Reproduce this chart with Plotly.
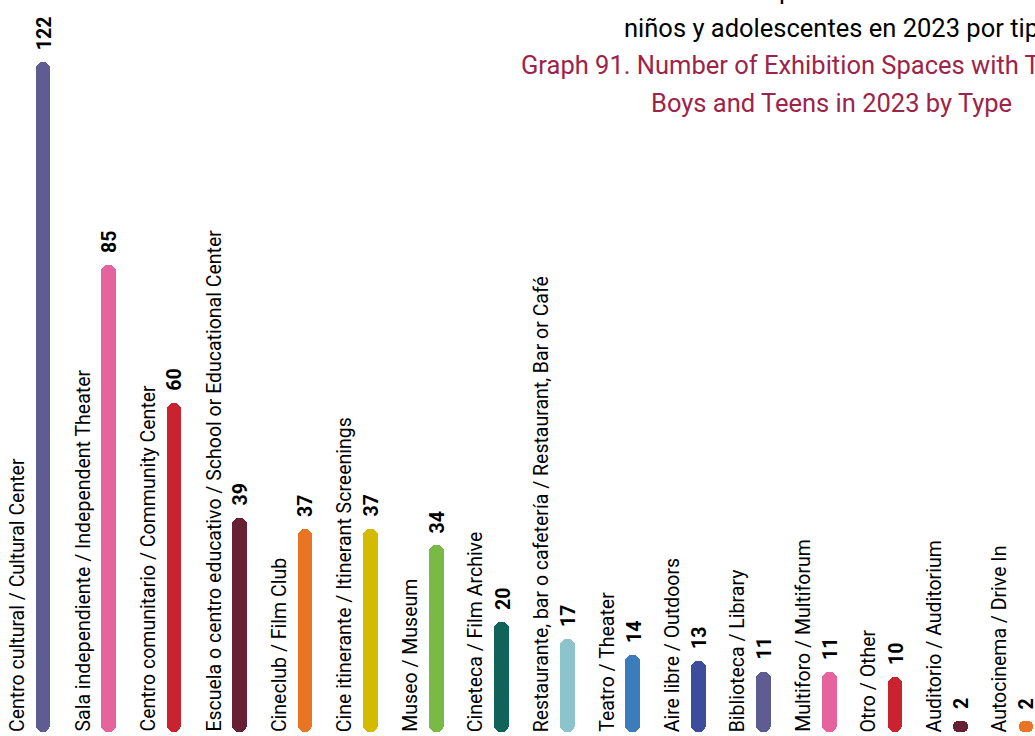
import plotly.graph_objects as go

# Data
categories = [
    'Centro cultural / Cultural Center',
    'Sala independiente / Independent Theater',
    'Centro comunitario / Community Center',
    'Escuela o centro educativo / School or Educational Center',
    'Cineclub / Film Club',
    'Cine itinerante / Itinerant Screenings',
    'Museo / Museum',
    'Cineteca / Film Archive',
    'Restaurante, bar o cafetería / Restaurant, Bar or Café',
    'Teatro / Theater',
    'Aire libre / Outdoors',
    'Biblioteca / Library',
    'Multiforo / Multiforum',
    'Otro / Other',
    'Auditorio / Auditorium',
    'Autocinema / Drive In',
]
values = [122, 85, 60, 39, 37, 37, 34, 20, 17, 14, 13, 11, 11, 10, 2, 2]
colors = [
    '#5e5c90', '#e5649e', '#c8232f', '#661f33', '#e97424', '#d4bb00',
    '#7bb946', '#106358', '#8cc3cd', '#3b7cbd', '#3c4e9b', '#5e5c90',
    '#e5649e', '#c8232f', '#661f33', '#e97424',
]

title_lines = [
    ('Gráfica 91. Número de espacios de exhibición con programación para niñas,', 'black'),
    ('niños y adolescentes en 2023 por tipo', 'black'),
    ('Graph 91. Number of Exhibition Spaces with Themed Programming for Girls,', '#9d2449'),
    ('Boys and Teens in 2023 by Type', '#9d2449'),
]

W, H = 1035, 736
FONT = 'Roboto'

x = list(range(len(values)))

fig = go.Figure()

# Rounded bars.
fig.add_trace(go.Bar(
    x=x, y=values, base=[0] * len(values),
    width=0.224,
    marker=dict(color=colors, cornerradius='50%', line=dict(width=0)),
    showlegend=False,
    hovertemplate='%{y}<extra></extra>',
))

annotations = []

# Category labels, rotated, to the left of each bar.
for i, name in enumerate(categories):
    annotations.append(dict(
        x=i, y=0, xref='x', yref='y',
        text=name, showarrow=False, textangle=-90,
        xanchor='center', yanchor='bottom', xshift=-26, yshift=-2,
        font=dict(family=FONT, size=19.5, color='black'),
    ))

# Value labels above each bar.
for i, v in enumerate(values):
    annotations.append(dict(
        x=i, y=v, xref='x', yref='y',
        text='<b>%d</b>' % v, showarrow=False, textangle=-90,
        xanchor='center', yanchor='bottom', xshift=1, yshift=10,
        font=dict(family=FONT, size=19.5, color='black'),
    ))

# Title lines (the chart is cropped, so they run off the top and right edges).
title_pos = [(490, -10), (622, 28), (519, 65), (649, 103)]
for (text, color), (px, py) in zip(title_lines, title_pos):
    annotations.append(dict(
        x=px / W, y=1 - py / H, xref='paper', yref='paper',
        text=text, showarrow=False,
        xanchor='left', yanchor='middle',
        font=dict(family=FONT, size=25.5, color=color),
    ))

px_per_unit = 5.49
x0, step = 43, 65.53
y_base = 732

fig.update_layout(
    width=W, height=H,
    plot_bgcolor='white',
    paper_bgcolor='white',
    margin=dict(t=0, r=0, b=0, l=0, pad=0),
    bargap=0,
    xaxis=dict(
        range=[-x0 / step, (W - x0) / step],
        visible=False, fixedrange=True,
    ),
    yaxis=dict(
        range=[-(H - y_base) / px_per_unit, y_base / px_per_unit],
        visible=False, fixedrange=True,
    ),
    annotations=annotations,
)

fig.write_html(
    'out.html',
    config=dict(displayModeBar=False),
    post_script="document.body.style.margin='0';",
)
